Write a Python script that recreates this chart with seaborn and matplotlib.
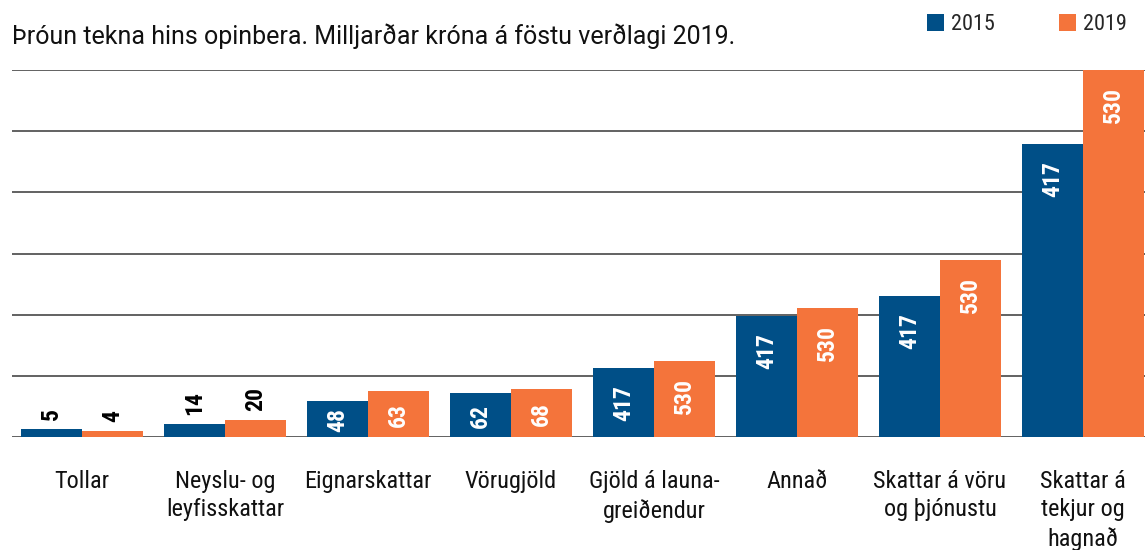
import numpy as np
import pandas as pd
import matplotlib
matplotlib.use("Agg")
import matplotlib.pyplot as plt
import seaborn as sns

# Categories and series (heights, grid step = 100)
categories = ["Tollar", "Neyslu- og\nleyfisskattar", "Eignarskattar", "Vörugjöld",
              "Gjöld á launa-\ngreiðendur", "Annað", "Skattar á vöru\nog þjónustu",
              "Skattar á\ntekjur og\nhagnað"]
years = ["2015", "2019"]
values_2015 = [13.6, 21.8, 59.4, 72.4, 112.8, 197.8, 230.5, 479]
values_2019 = [10.3, 28.3, 75.7, 79.0, 124.2, 210.9, 289.4, 600]
# numbers as printed on the bars
labels_2015 = ["5", "14", "48", "62", "417", "417", "417", "417"]
labels_2019 = ["4", "20", "63", "68", "530", "530", "530", "530"]

colors = {"2015": "#004f87", "2019": "#f4743b"}
narrow = ["Roboto Condensed", "DejaVu Sans"]

df = pd.DataFrame({
    "flokkur": categories * 2,
    "ar": [years[0]] * len(categories) + [years[1]] * len(categories),
    "gildi": values_2015 + values_2019,
})

sns.set_style("white")
fig = plt.figure(figsize=(11.45, 5.5), dpi=100)
ax = fig.add_axes([12 / 1145, 113 / 550, 1133 / 1145, 367 / 550])

sns.barplot(data=df, x="flokkur", y="gildi", hue="ar", palette=colors,
            width=0.853, gap=0, saturation=1, linewidth=0, ax=ax, zorder=3)

ax.set_xlim(-0.49, 7.434)
ax.set_ylim(0, 600)
ax.set_yticks(np.arange(0, 601, 100))
ax.yaxis.grid(True, color="#555555", linewidth=1.3, zorder=0)
ax.set_axisbelow(True)
for s in ax.spines.values():
    s.set_visible(False)
ax.set_yticklabels([])
ax.tick_params(axis="y", length=0)
ax.tick_params(axis="x", length=0, pad=24)
ax.set_xlabel("")
ax.set_ylabel("")
for t in ax.get_xticklabels():
    t.set_family(narrow)
    t.set_fontsize(17.5)
    t.set_linespacing(1.28)
    t.set_color("#111111")

# value labels on the bars
px_per_unit = 367 / 600
for cont, labs in zip(ax.containers, [labels_2015, labels_2019]):
    for bar, lab in zip(cont, labs):
        x = bar.get_x() + bar.get_width() / 2
        h = bar.get_height()
        hpx = h * px_per_unit
        tlen = 11 * len(lab)
        if hpx < tlen + 8:
            ax.annotate(lab, (x, h), xytext=(0, 6.5), textcoords="offset points",
                        ha="center", va="bottom", rotation=90, color="black",
                        family=narrow, fontsize=17, fontweight="bold", zorder=5)
        else:
            off = min(17, (hpx - tlen) / 2)
            ax.annotate(lab, (x, h), xytext=(0, -off * 0.72), textcoords="offset points",
                        ha="center", va="top", rotation=90, color="white",
                        family=narrow, fontsize=17, fontweight="bold", zorder=5)

sns.move_legend(ax, "center right", bbox_to_anchor=(1.0015, 1.123), ncol=2,
                frameon=False, title=None, handlelength=0.75, handleheight=0.75,
                handletextpad=0.3, columnspacing=2.92, prop={"family": narrow, "size": 16})

fig.text(12 / 1145, 1 - 36 / 550, "Þróun tekna hins opinbera. Milljarðar króna á föstu verðlagi 2019.",
         ha="left", va="center", fontsize=18, family=["Roboto", "DejaVu Sans"], color="#111111")

fig.savefig("out.png", dpi=100)
